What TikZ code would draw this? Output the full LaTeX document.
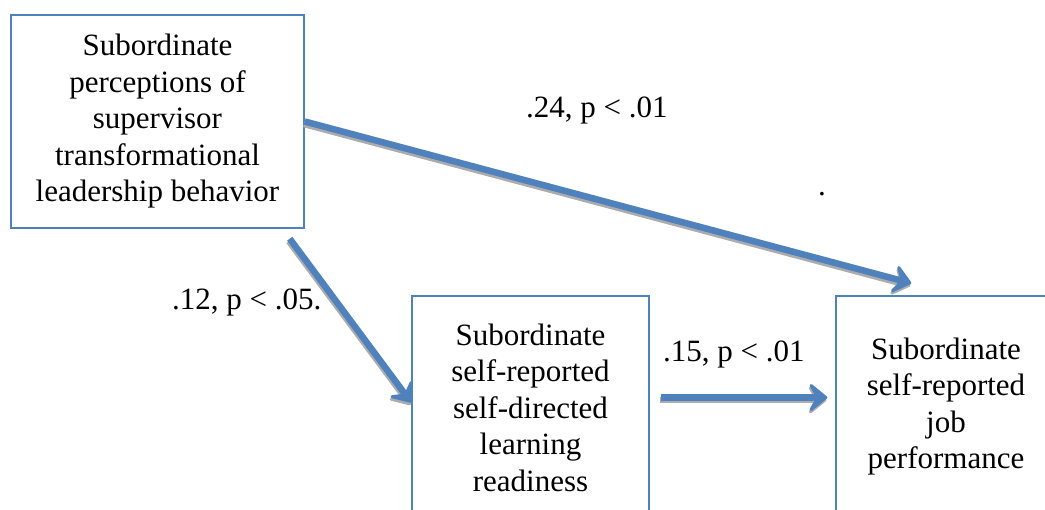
\documentclass[tikz,border=0pt]{standalone}
\usepackage{fontspec}
\setmainfont{Liberation Serif}
\usetikzlibrary{arrows.meta,calc}
\definecolor{boxblue}{HTML}{4F81BD}
\tikzset{
  box/.style={draw=boxblue, line width=1.5pt, align=center, inner sep=0pt,
    font=\fontsize{31}{36.5}\selectfont},
  lbl/.style={anchor=base west, inner sep=0pt, font=\fontsize{31}{36.5}\selectfont},
  conntip/.style={-{Stealth[length=22pt,width=36pt,inset=10pt,round]}, line width=6.5pt},
  conn/.style={conntip, draw=boxblue},
  connshadow/.style={conntip, draw=gray!65, transform canvas={shift={(-0.8pt,-2.5pt)}}}
}
\begin{document}
\begin{tikzpicture}[x=1pt,y=-1pt]
\useasboundingbox (0,0) rectangle (1045,510);
\clip (0,0) rectangle (1045,510);
\node[box, minimum width=293pt, minimum height=213pt] (b1) at (157.5,121.5)
  {Subordinate\\perceptions of\\supervisor\\transformational\\leadership behavior};
\node[box, minimum width=237pt, minimum height=223pt] (b2) at (530.5,407.5)
  {Subordinate\\self-reported\\self-directed\\learning\\readiness};
\node[box, minimum width=220pt, minimum height=221pt] (b3) at (946,406.5)
  {Subordinate\\self-reported\\job\\performance};
\draw[connshadow] ($(b1.south east)+(-15,10)$) -- ([yshift=5pt]b2.west);
\draw[connshadow] (b1.east) -- ($(b3.north west)+(76,-12)$);
\draw[connshadow] ($(b2.east)+(11,-10)$) -- ($(b3.west)+(-8,-9)$);
\draw[conn] ($(b1.south east)+(-15,10)$) -- ([yshift=5pt]b2.west);
\draw[conn] (b1.east) -- ($(b3.north west)+(76,-12)$);
\draw[conn] ($(b2.east)+(11,-10)$) -- ($(b3.west)+(-8,-9)$);
\node[lbl] (l1) at (526,118) {.24, p < .01};
\node[lbl] (l2) at (172,310) {.12, p < .05.};
\node[lbl] (l3) at (663,362) {.15, p < .01};
\node[lbl] (l4) at (818,196) {.};
\end{tikzpicture}
\end{document}
